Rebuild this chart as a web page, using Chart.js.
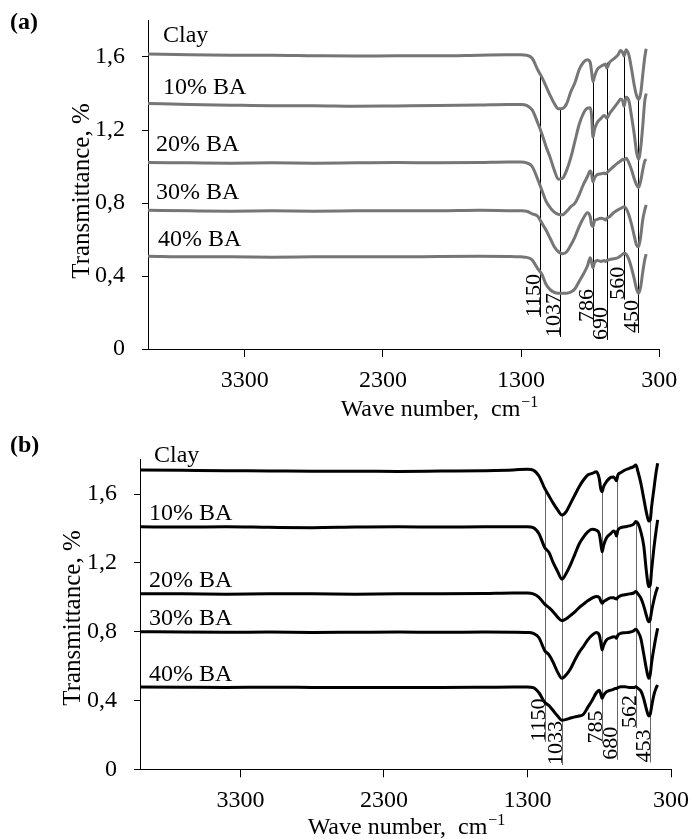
<!DOCTYPE html>
<html>
<head>
<meta charset="utf-8">
<script src="https://cdn.jsdelivr.net/npm/chart.js@4.4.0/dist/chart.umd.min.js"></script>
<style>
html,body{margin:0;padding:0;background:#fff;}
#wrap{position:relative;width:692px;height:839px;overflow:hidden;}
canvas{position:absolute;left:0;}
#ca{top:0;}
#cb{top:420px;}
</style>
</head>
<body>
<div id="wrap">
<canvas id="ca" width="692" height="420"></canvas>
<canvas id="cb" width="692" height="419"></canvas>
</div>
<script>
// ---------------- DATA ----------------
const seriesNames = ['Clay', '10% BA', '20% BA', '30% BA', '40% BA'];

const xTickValues = [3300, 2300, 1300, 300];
const yTickValues = [0, 0.4, 0.8, 1.2, 1.6];
const yTickLabels = ['0', '0,4', '0,8', '1,2', '1,6'];

// Panel (a)
const wavenumbersA = [4000, 3700, 3400, 3100, 2800, 2500, 2200, 1900, 1600, 1400,
  1300, 1260, 1220, 1180, 1150, 1120, 1090, 1060, 1030, 1000,
  970, 940, 910, 880, 850, 820, 800, 790, 780, 770,
  750, 720, 700, 690, 680, 660, 630, 600, 580, 565,
  555, 540, 520, 500, 480, 465, 450, 435, 420, 405, 395];
const clayA = [1.617, 1.612, 1.61, 1.61, 1.607, 1.605, 1.607, 1.607, 1.61, 1.612,
  1.612, 1.61, 1.593, 1.53, 1.49, 1.44, 1.39, 1.345, 1.316, 1.318,
  1.345, 1.41, 1.46, 1.53, 1.57, 1.585, 1.57, 1.52, 1.465, 1.49,
  1.53, 1.55, 1.558, 1.562, 1.54, 1.57, 1.59, 1.61, 1.635, 1.625,
  1.605, 1.64, 1.61, 1.53, 1.44, 1.39, 1.368, 1.40, 1.50, 1.60, 1.645];
const ba10A = [1.345, 1.34, 1.336, 1.333, 1.333, 1.33, 1.332, 1.334, 1.337, 1.34,
  1.34, 1.335, 1.31, 1.24, 1.18, 1.11, 1.05, 0.98, 0.93, 0.935,
  0.98, 1.05, 1.14, 1.23, 1.29, 1.32, 1.322, 1.28, 1.16, 1.2,
  1.24, 1.265, 1.28, 1.275, 1.265, 1.29, 1.32, 1.35, 1.37, 1.36,
  1.33, 1.38, 1.36, 1.27, 1.17, 1.08, 1.04, 1.10, 1.22, 1.36, 1.40];
const ba20A = [1.022, 1.02, 1.018, 1.02, 1.018, 1.02, 1.022, 1.02, 1.022, 1.025,
  1.025, 1.02, 1.0, 0.93, 0.87, 0.81, 0.775, 0.75, 0.738, 0.735,
  0.755, 0.78, 0.80, 0.845, 0.9, 0.945, 0.975, 0.96, 0.915, 0.935,
  0.955, 0.96, 0.965, 0.96, 0.965, 0.98, 1.0, 1.02, 1.03, 1.04,
  1.035, 1.045, 1.02, 0.98, 0.93, 0.9, 0.885, 0.92, 0.98, 1.03, 1.04];
const ba30A = [0.76, 0.757, 0.755, 0.757, 0.755, 0.757, 0.758, 0.757, 0.76, 0.758,
  0.757, 0.755, 0.74, 0.727, 0.69, 0.652, 0.607, 0.56, 0.533, 0.522,
  0.533, 0.57, 0.615, 0.67, 0.716, 0.747, 0.725, 0.68, 0.67, 0.70,
  0.71, 0.716, 0.712, 0.707, 0.716, 0.725, 0.747, 0.762, 0.77, 0.776,
  0.78, 0.77, 0.734, 0.68, 0.615, 0.57, 0.56, 0.615, 0.707, 0.762, 0.79];
const ba40A = [0.508, 0.505, 0.505, 0.503, 0.505, 0.506, 0.505, 0.507, 0.508, 0.507,
  0.505, 0.502, 0.488, 0.44, 0.41, 0.355, 0.325, 0.31, 0.305, 0.305,
  0.305, 0.312, 0.33, 0.37, 0.41, 0.455, 0.5, 0.475, 0.445, 0.47,
  0.485, 0.48, 0.485, 0.48, 0.485, 0.49, 0.495, 0.5, 0.51, 0.52,
  0.525, 0.52, 0.49, 0.44, 0.38, 0.33, 0.305, 0.34, 0.42, 0.49, 0.52];

const peakLabelsA = ['1150', '1037', '786', '690', '560', '450'];
const peakPosA = [1166, 1021, 783, 675, 559, 451];
const peakTopA = [1.50, 1.313, 1.474, 1.569, 1.62, 1.368];
const peakBottomA = [0.175, 0.066, 0.148, 0.05, 0.27, 0.088];

// Panel (b)
const wavenumbersB = [4000, 3700, 3400, 3100, 2800, 2500, 2200, 1900, 1600, 1400,
  1300, 1260, 1220, 1180, 1150, 1120, 1090, 1060, 1030, 1000,
  970, 940, 910, 880, 850, 820, 800, 790, 780, 770,
  750, 720, 700, 690, 680, 670, 650, 620, 590, 560,
  545, 530, 510, 490, 470, 455, 445, 435, 420, 405, 393];
const clayB = [1.74, 1.738, 1.736, 1.735, 1.733, 1.733, 1.732, 1.734, 1.736, 1.74,
  1.745, 1.74, 1.705, 1.633, 1.589, 1.546, 1.508, 1.478, 1.498, 1.546,
  1.595, 1.643, 1.682, 1.711, 1.72, 1.73, 1.69, 1.633, 1.614, 1.643,
  1.672, 1.697, 1.70, 1.69, 1.678, 1.711, 1.725, 1.74, 1.75, 1.76,
  1.769, 1.73, 1.663, 1.575, 1.488, 1.443, 1.449, 1.527, 1.624, 1.72, 1.779];
const ba10B = [1.41, 1.408, 1.41, 1.407, 1.405, 1.408, 1.41, 1.408, 1.41, 1.41,
  1.41, 1.405, 1.37, 1.29, 1.26, 1.2, 1.15, 1.105, 1.14, 1.19,
  1.25, 1.31, 1.35, 1.38, 1.395, 1.39, 1.37, 1.32, 1.265, 1.3,
  1.345, 1.37, 1.385, 1.38, 1.357, 1.39, 1.405, 1.41, 1.415, 1.425,
  1.44, 1.43, 1.38, 1.3, 1.14, 1.062, 1.07, 1.16, 1.28, 1.38, 1.45];
const ba20B = [1.02, 1.02, 1.018, 1.02, 1.02, 1.018, 1.02, 1.02, 1.022, 1.025,
  1.025, 1.02, 1.0, 0.96, 0.94, 0.915, 0.885, 0.864, 0.875, 0.895,
  0.915, 0.94, 0.96, 0.98, 0.995, 1.005, 1.0, 0.98, 0.965, 0.975,
  0.985, 0.998, 0.997, 0.993, 0.99, 1.0, 1.01, 1.015, 1.02, 1.025,
  1.033, 1.02, 0.995, 0.95, 0.89, 0.858, 0.87, 0.92, 0.98, 1.03, 1.06];
const ba30B = [0.8, 0.798, 0.797, 0.798, 0.796, 0.797, 0.798, 0.797, 0.798, 0.797,
  0.795, 0.79, 0.765, 0.69, 0.665, 0.62, 0.565, 0.529, 0.55, 0.585,
  0.635, 0.68, 0.715, 0.752, 0.78, 0.795, 0.78, 0.74, 0.694, 0.72,
  0.752, 0.765, 0.771, 0.77, 0.762, 0.78, 0.791, 0.794, 0.797, 0.805,
  0.814, 0.8, 0.76, 0.67, 0.577, 0.529, 0.55, 0.62, 0.7, 0.77, 0.82];
const ba40B = [0.478, 0.477, 0.476, 0.477, 0.476, 0.475, 0.476, 0.476, 0.477, 0.478,
  0.478, 0.475, 0.445, 0.39, 0.37, 0.34, 0.31, 0.285, 0.29, 0.298,
  0.305, 0.31, 0.32, 0.36, 0.4, 0.445, 0.46, 0.44, 0.413, 0.43,
  0.45, 0.46, 0.465, 0.47, 0.47, 0.475, 0.48, 0.48, 0.475, 0.475,
  0.48, 0.47, 0.455, 0.41, 0.345, 0.31, 0.32, 0.365, 0.43, 0.47, 0.49];

const peakLabelsB = ['1150', '1033', '785', '680', '562', '453'];
const peakPosB = [1176, 1061, 781, 676, 547, 447];
const peakTopB = [1.614, 1.478, 1.614, 1.69, 1.44, 1.44];
const peakBottomB = [0.16, 0.025, 0.15, 0.055, 0.24, 0.04];

// ---------------- RENDERING ----------------
const FONT = '"Liberation Serif", "Times New Roman", Times, serif';

function decorPlugin(p) {
  return {
    id: 'decor',
    beforeDatasetsDraw(chart) {
      const {ctx, scales: {x, y}} = chart;
      ctx.save();
      ctx.strokeStyle = p.peakLineColor;
      ctx.lineWidth = 1;
      p.peakPos.forEach((w, i) => {
        const px = Math.round(x.getPixelForValue(w)) + 0.5;
        ctx.beginPath();
        ctx.moveTo(px, y.getPixelForValue(p.peakTop[i]));
        ctx.lineTo(px, y.getPixelForValue(p.peakBottom[i]));
        ctx.stroke();
      });
      ctx.restore();
    },
    afterDatasetsDraw(chart) {
      const {ctx, scales: {x, y}, chartArea} = chart;
      ctx.save();
      ctx.fillStyle = '#000';
      ctx.textBaseline = 'alphabetic';
      ctx.textAlign = 'left';
      // peak labels (rotated)
      ctx.font = '22px ' + FONT;
      p.peakPos.forEach((w, i) => {
        const px = Math.round(x.getPixelForValue(w));
        ctx.save();
        ctx.translate(px - 0.5, y.getPixelForValue(p.peakBottom[i]));
        ctx.rotate(-Math.PI / 2);
        ctx.fillText(p.peakLabels[i], 0, 0);
        ctx.restore();
      });
      // series names
      ctx.font = '24px ' + FONT;
      chart.data.datasets.forEach((ds, i) => {
        const first = ds.data[0];
        ctx.fillText(ds.label, chartArea.left + p.nameDx[i], y.getPixelForValue(first.y) - p.nameDy[i]);
      });
      // panel letter
      ctx.font = 'bold 24px ' + FONT;
      ctx.fillText(p.panel, p.panelX, p.panelY);
      // x-axis title with superscript
      const main = 'Wave number,  cm';
      const sup = '\u22121';
      ctx.font = '24px ' + FONT;
      const w1 = ctx.measureText(main).width;
      ctx.font = '16px ' + FONT;
      const w2 = ctx.measureText(sup).width;
      const sx = p.xTitleCenter - (w1 + w2) / 2;
      ctx.font = '24px ' + FONT;
      ctx.fillText(main, sx, p.xTitleBaseline);
      ctx.font = '16px ' + FONT;
      ctx.fillText(sup, sx + w1 + 1, p.xTitleBaseline - 9);
      // y-axis title
      ctx.font = '25px ' + FONT;
      ctx.save();
      ctx.translate(p.yTitleX, p.yTitleY);
      ctx.rotate(-Math.PI / 2);
      ctx.textAlign = 'center';
      ctx.fillText('Transmittance, %', 0, 0);
      ctx.restore();
      ctx.restore();
    }
  };
}

function makeChart(canvasId, wn, seriesList, lineColor, geom, p) {
  const datasets = seriesList.map((vals, i) => ({
    label: seriesNames[i],
    data: wn.map((w, k) => ({x: w, y: vals[k]})),
    borderColor: lineColor,
    borderWidth: 3,
    pointRadius: 0,
    fill: false,
    cubicInterpolationMode: 'monotone'
  }));
  return new Chart(document.getElementById(canvasId), {
    type: 'line',
    data: {datasets},
    options: {
      responsive: false,
      animation: false,
      devicePixelRatio: 1,
      layout: {padding: {top: geom.top, right: geom.right, left: 0, bottom: 0}},
      plugins: {legend: {display: false}, tooltip: {enabled: false}, title: {display: false}},
      scales: {
        x: {
          type: 'linear', reverse: true, min: 300, max: 4000,
          afterBuildTicks: s => { s.ticks = xTickValues.map(v => ({value: v})); },
          afterFit: s => { s.height = geom.xHeight; s.paddingLeft = 0; s.paddingRight = 0; },
          ticks: {padding: geom.xTickPad, maxRotation: 0, autoSkip: false, color: '#000',
                  font: {size: 24, family: FONT}, callback: v => String(v)},
          grid: {drawOnChartArea: false, drawTicks: true, tickLength: 8, color: '#000', lineWidth: 1},
          border: {display: true, color: '#000', width: 1}
        },
        y: {
          type: 'linear', min: 0, max: 1.8,
          afterBuildTicks: s => { s.ticks = yTickValues.map(v => ({value: v})); },
          afterFit: s => { s.width = geom.yWidth; s.paddingTop = 0; s.paddingBottom = 0; },
          ticks: {padding: 17, color: '#000', font: {size: 24, family: FONT},
                  callback: v => { const i = yTickValues.indexOf(v); return i >= 0 ? yTickLabels[i] : ''; }},
          grid: {drawOnChartArea: false, drawTicks: true, tickLength: 6, color: '#000', lineWidth: 1},
          border: {display: true, color: '#000', width: 1}
        }
      }
    },
    plugins: [decorPlugin(p)]
  });
}

makeChart('ca', wavenumbersA, [clayA, ba10A, ba20A, ba30A, ba40A], '#767676',
  {top: 20.5, right: 32.7, xHeight: 71, yWidth: 148, xTickPad: 9},
  {panel: '(a)', panelX: 10, panelY: 29, xTitleCenter: 439, xTitleBaseline: 416,
   yTitleX: 88.5, yTitleY: 191, nameDx: [15, 15, 8, 8, 10], nameDy: [12, 10, 11, 11, 10],
   peakLineColor: '#000', peakLabels: peakLabelsA, peakPos: peakPosA, peakTop: peakTopA, peakBottom: peakBottomA});

makeChart('cb', wavenumbersB, [clayB, ba10B, ba20B, ba30B, ba40B], '#000000',
  {top: 39.7, right: 21, xHeight: 69.7, yWidth: 140, xTickPad: 9},
  {panel: '(b)', panelX: 10, panelY: 32, xTitleCenter: 406, xTitleBaseline: 414,
   yTitleX: 79.5, yTitleY: 198, nameDx: [14, 9, 9, 9, 9], nameDy: [8, 6.5, 7, 7, 6],
   peakLineColor: '#666', peakLabels: peakLabelsB, peakPos: peakPosB, peakTop: peakTopB, peakBottom: peakBottomB});
</script>
</body>
</html>
